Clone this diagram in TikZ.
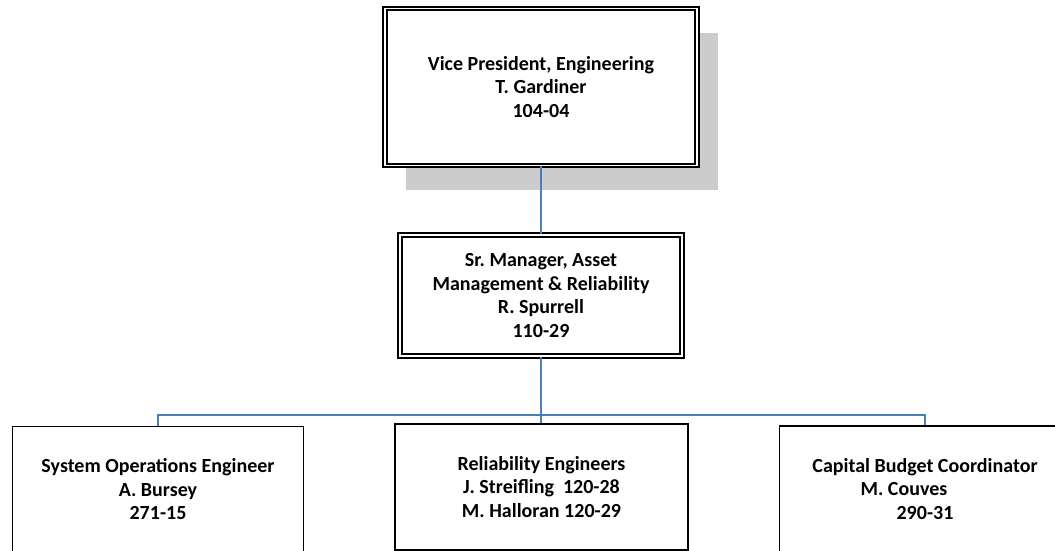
\documentclass[tikz,border=0pt]{standalone}
\usepackage{fontspec}
\setmainfont{Carlito}
\frenchspacing
\usetikzlibrary{shadows}
\definecolor{linkblue}{RGB}{74,126,187}
\definecolor{shadowgray}{RGB}{204,204,204}
\begin{document}
\begin{tikzpicture}[x=1pt, y=1pt, head/.style={draw, fill=white, double, line width=2pt, double distance=1.7pt, align=center, font=\bfseries\fontsize{20}{23.5}\selectfont}, unit/.style={draw, fill=white, line width=1.5pt, minimum width=291pt, minimum height=126pt, align=center, font=\bfseries\fontsize{20}{23.5}\selectfont}, link/.style={draw=linkblue, line width=1.5pt}]
	\useasboundingbox (0,0) rectangle (1055,551);
	\clip (0,0) rectangle (1055,551);
	\node[head, minimum width=312pt, minimum height=157pt, drop shadow={shadow xshift=21pt, shadow yshift=-25pt, fill=shadowgray, opacity=1}] (VP) at (541,464) {Vice President, Engineering\\T. Gardiner\\104-04};
	\node[head, minimum width=282pt, minimum height=121pt] (SM) at (541,255.5) {Sr. Manager, Asset\\Management \& Reliability\\R. Spurrell\\110-29};
	\node[unit] (SO) at (158,61.5) {System Operations Engineer\\A. Bursey\\271-15};
	\node[unit, minimum width=293pt] (RE) at (541.5,64) {Reliability Engineers\\J. Streifling\ \ 120-28\\M. Halloran 120-29};
	\node[unit] (CB) at (925,62) {Capital Budget Coordinator\\\mbox{M. Couves\hspace{42pt}}\\290-31};
	\coordinate (B) at (541,136);
	\draw[link] (VP) -- (SM);
	\draw[link] (SM) -- (B);
	\draw[link] (SO.north) |- (B) -| (CB.north);
	\draw[link] (B) -- (B |- RE.north);
\end{tikzpicture}
\end{document}
